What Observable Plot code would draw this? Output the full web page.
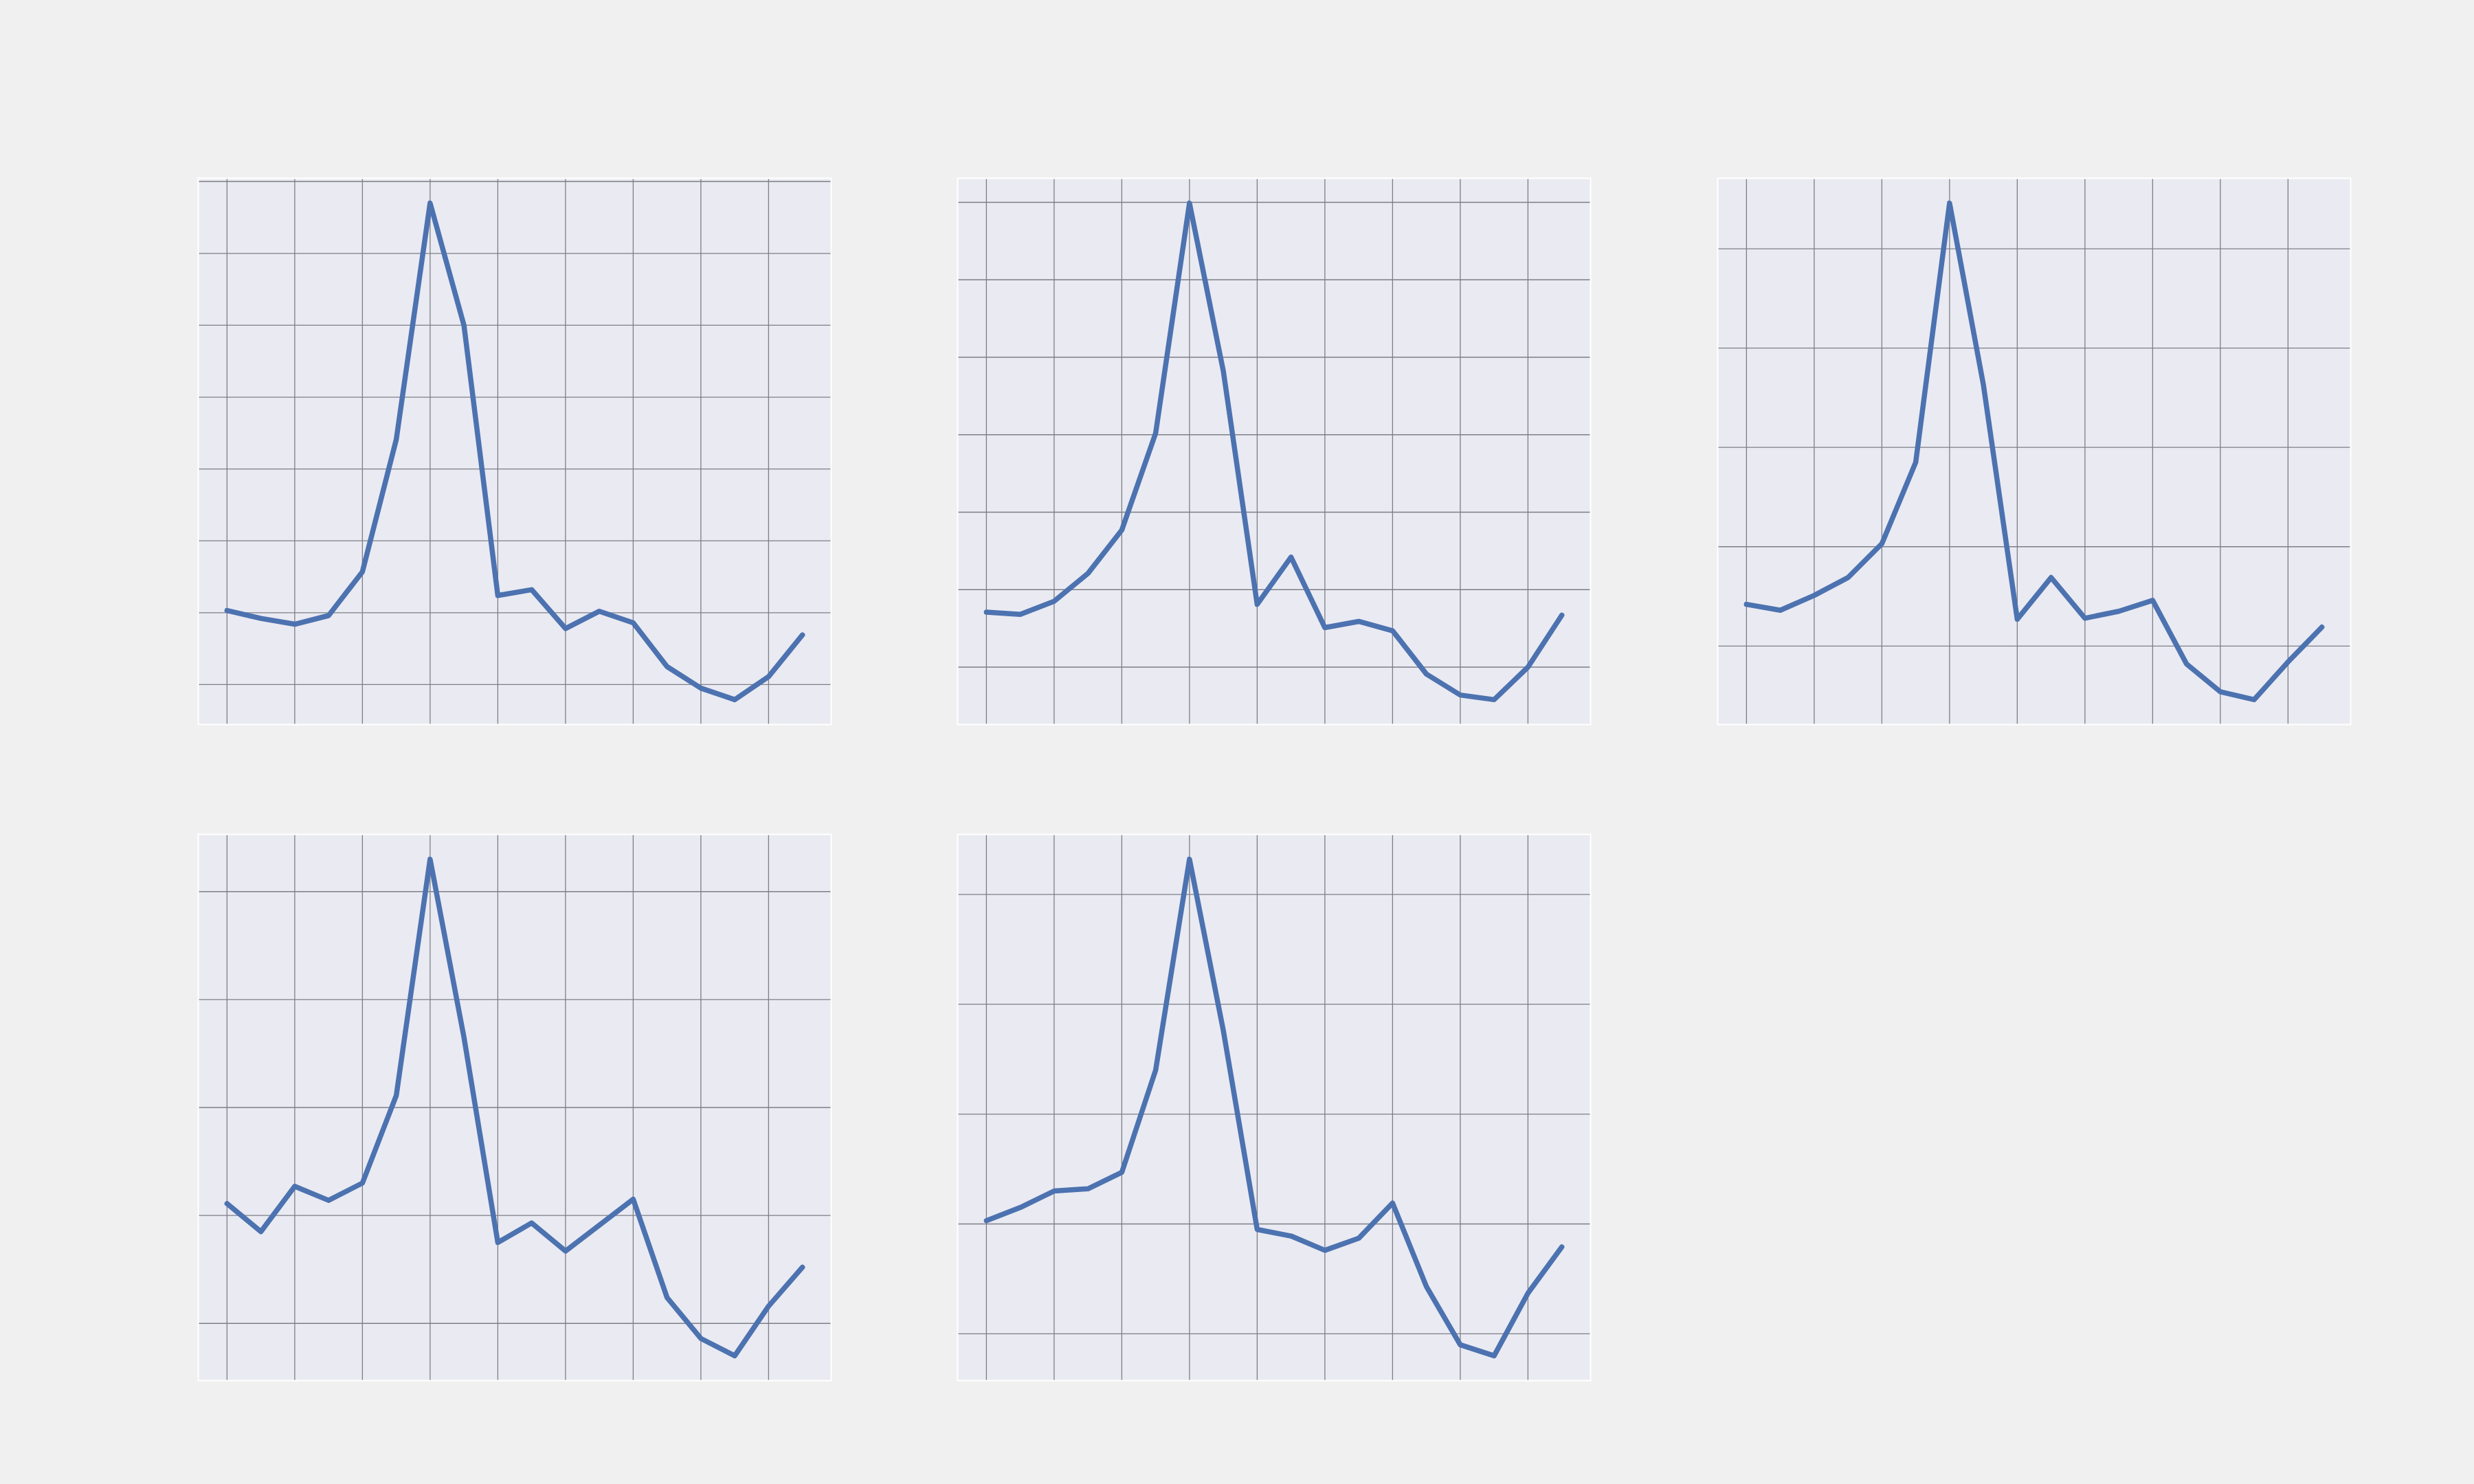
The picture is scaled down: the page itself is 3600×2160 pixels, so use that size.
<!DOCTYPE html>
<html>
<head>
<meta charset="utf-8">
<script src="https://cdn.jsdelivr.net/npm/d3@7"></script>
<script src="https://cdn.jsdelivr.net/npm/@observablehq/plot@0.6"></script>
<style>
  html, body { margin: 0; padding: 0; background: #f0f0f0; }
  #fig { position: relative; width: 3600px; height: 2160px; background: #f0f0f0; overflow: hidden; }
  #fig > div { position: absolute; }
  #fig svg { display: block; }
</style>
</head>
<body>
<div id="fig"></div>
<script>
// x positions (steps) shared by every panel
const steps = [0, 1, 2, 3, 4, 5, 6, 7, 8, 9, 10, 11, 12, 13, 14, 15, 16, 17];
// vertical grid ticks
const xTicks = [0, 2, 4, 6, 8, 10, 12, 14, 16];

// series values, one array per panel (in grid units)
const seriesA = [1.03, 0.92, 0.84, 0.96, 1.57, 3.41, 6.70, 5.00, 1.24, 1.32, 0.78, 1.02, 0.86, 0.25, -0.05, -0.21, 0.11, 0.69];
const seriesB = [0.71, 0.68, 0.85, 1.21, 1.77, 3.02, 5.99, 3.82, 0.81, 1.42, 0.51, 0.59, 0.47, -0.09, -0.36, -0.42, 0.00, 0.67];
const seriesC = [0.42, 0.36, 0.51, 0.69, 1.03, 1.85, 4.46, 2.63, 0.27, 0.69, 0.28, 0.35, 0.46, -0.18, -0.46, -0.54, -0.16, 0.19];
const seriesD = [1.11, 0.85, 1.27, 1.14, 1.30, 2.11, 4.30, 2.65, 0.75, 0.93, 0.67, 0.91, 1.15, 0.24, -0.14, -0.30, 0.16, 0.52];
const seriesE = [1.03, 1.15, 1.30, 1.32, 1.47, 2.40, 4.32, 2.76, 0.95, 0.89, 0.76, 0.87, 1.19, 0.43, -0.10, -0.20, 0.37, 0.79];

const panels = [seriesA, seriesB, seriesC, seriesD, seriesE];

// layout (figure 3600x2160, 2 rows x 3 columns)
const W = 921, H = 795;
const lefts = [288, 1393, 2499];
const tops = [259, 1214];

const fig = document.getElementById("fig");

panels.forEach((vals, k) => {
  const col = k % 3, row = Math.floor(k / 3);
  const [lo, hi] = d3.extent(vals);
  const pad = (hi - lo) * 0.05;
  const yDom = [lo - pad, hi + pad];
  const xPad = (steps[steps.length - 1] - steps[0]) * 0.05;
  const yTicks = d3.range(Math.ceil(yDom[0]), Math.floor(yDom[1]) + 1);
  const data = steps.map((s, i) => ({step: s, value: vals[i]}));

  const chart = Plot.plot({
    width: W,
    height: H,
    margin: 0,
    style: {background: "#eaeaf2", overflow: "visible"},
    x: {domain: [steps[0] - xPad, steps[steps.length - 1] + xPad], axis: null},
    y: {domain: yDom, axis: null},
    marks: [
      Plot.gridX(xTicks, {stroke: "#7e7e86", strokeOpacity: 1, strokeWidth: 1.3}),
      Plot.gridY(yTicks, {stroke: "#7e7e86", strokeOpacity: 1, strokeWidth: 1.3}),
      Plot.frame({stroke: "white", strokeWidth: 2}),
      Plot.line(data, {x: "step", y: "value", stroke: "#4c72b0", strokeWidth: 7.5, strokeLinecap: "round", strokeLinejoin: "round"})
    ]
  });
  const wrap = document.createElement("div");
  wrap.style.left = lefts[col] + "px";
  wrap.style.top = tops[row] + "px";
  wrap.appendChild(chart);
  fig.appendChild(wrap);
});
</script>
</body>
</html>
